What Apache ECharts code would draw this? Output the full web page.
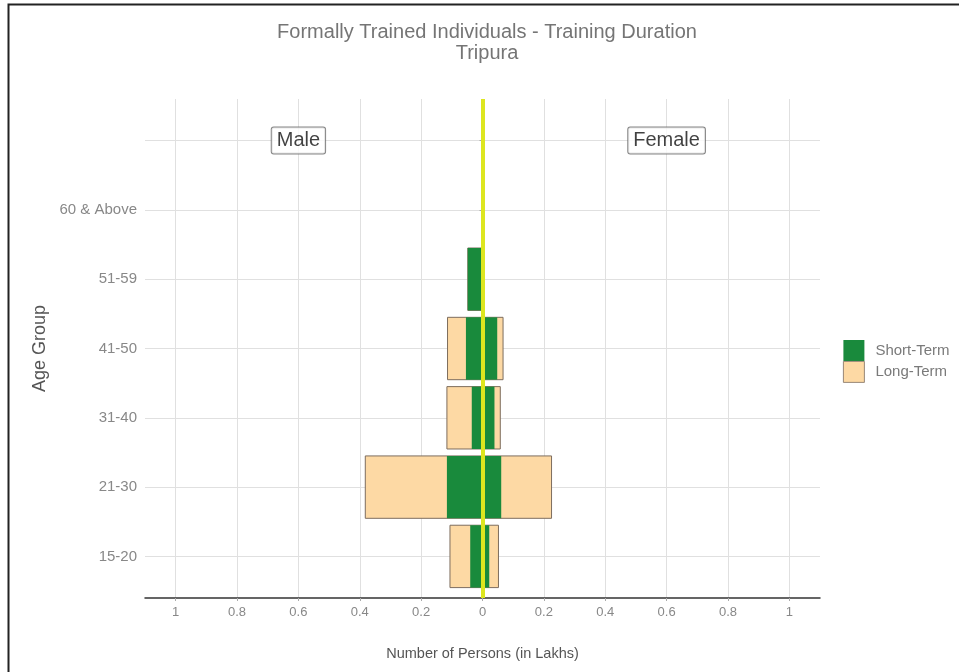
<!DOCTYPE html>
<html>
<head>
<meta charset="utf-8">
<script src="https://cdn.jsdelivr.net/npm/echarts@6/dist/echarts.min.js"></script>
<style>
  html, body { margin: 0; padding: 0; background: #fff; }
  #chart-container { width: 959px; height: 672px; }
</style>
</head>
<body>
<div id="chart-container"></div>
<script>
// age groups, bottom to top (last one is the empty row used for the Male / Female tags)
var ageGroups = ['15-20', '21-30', '31-40', '41-50', '51-59', '60 & Above', ''];
// number of persons, in lakhs
var maleShort   = [0.040, 0.116, 0.035, 0.054, 0.048, 0.002];
var maleLong    = [0.066, 0.266, 0.081, 0.060, 0.000, 0.000];
var femaleShort = [0.022, 0.061, 0.039, 0.048, 0.002, 0.002];
var femaleLong  = [0.030, 0.164, 0.019, 0.019, 0.000, 0.000];
var xTicks = [-1, -0.8, -0.6, -0.4, -0.2, 0, 0.2, 0.4, 0.6, 0.8, 1];
var sideTags = [[-0.6, 6, 'Male'], [0.6, 6, 'Female']];

var GREEN = '#198a3c';
var PEACH = '#fdd9a4';
var FONT = 'Liberation Sans, Arial, sans-serif';

// one row per bar: [x value (male negative), row index]
var shortData = [], longData = [];
for (var i = 0; i < maleShort.length; i++) {
  shortData.push([-maleShort[i], i]);
  shortData.push([femaleShort[i], i]);
  longData.push([-(maleShort[i] + maleLong[i]), i]);
  longData.push([femaleShort[i] + femaleLong[i], i]);
}

function barRenderer(fill, stroke) {
  return function (params, api) {
    var v = api.value(0), row = api.value(1);
    var a = api.coord([0, row + 0.45]);
    var b = api.coord([v, row - 0.45]);
    return {
      type: 'rect',
      shape: {
        x: Math.min(a[0], b[0]),
        y: a[1],
        width: Math.abs(b[0] - a[0]),
        height: b[1] - a[1]
      },
      style: { fill: fill, stroke: stroke, lineWidth: stroke ? 1 : 0 }
    };
  };
}

var dom = document.getElementById('chart-container');
var myChart = echarts.init(dom, null, { renderer: 'canvas' });
var option = {
  animation: false,
  textStyle: { fontFamily: FONT },
  title: {
    text: 'Formally Trained Individuals - Training Duration\nTripura',
    left: 482,
    top: 17,
    textAlign: 'center',
    textStyle: { fontSize: 20, fontWeight: 'normal', color: '#757575', lineHeight: 21, fontFamily: FONT }
  },
  legend: {
    orient: 'vertical',
    left: 838,
    top: 335,
    icon: 'rect',
    itemWidth: 21,
    itemHeight: 21,
    itemGap: 0,
    data: ['Short-Term', 'Long-Term'],
    itemStyle: { borderWidth: 0.8 },
    textStyle: { fontSize: 15, color: '#7a7a7a', fontFamily: FONT, padding: [0, 0, 0, 6] }
  },
  grid: { left: 145, right: 139, top: 99, bottom: 74 },
  xAxis: {
    type: 'value',
    min: -1.1,
    max: 1.1,
    name: 'Number of Persons (in Lakhs)',
    nameLocation: 'middle',
    nameGap: 48,
    nameTextStyle: { fontSize: 14.5, color: '#555', fontFamily: FONT },
    axisLine: { show: true, onZero: false, lineStyle: { color: '#333', width: 1.5 } },
    axisTick: { show: true, length: 3, lineStyle: { color: '#aaa' }, customValues: xTicks },
    axisLabel: {
      customValues: xTicks,
      margin: 8,
      fontSize: 13,
      color: '#888',
      formatter: function (v) { return String(Math.abs(Math.round(v * 10) / 10)); }
    },
    splitLine: { show: true, lineStyle: { color: '#e0e0e0', width: 1 } }
  },
  yAxis: {
    type: 'value',
    min: -0.6,
    max: 6.6,
    name: 'Age Group',
    nameLocation: 'middle',
    nameGap: 95,
    nameTextStyle: { fontSize: 18, color: '#555', fontFamily: FONT },
    axisLine: { show: false },
    axisTick: { show: true, length: 3, lineStyle: { color: '#aaa' }, customValues: [0, 1, 2, 3, 4, 5, 6] },
    axisLabel: {
      customValues: [0, 1, 2, 3, 4, 5, 6],
      margin: 8,
      fontSize: 15,
      color: '#888',
      formatter: function (v) { return ageGroups[Math.round(v)] || ''; }
    },
    splitLine: { show: true, lineStyle: { color: '#e0e0e0', width: 1 } }
  },
  series: [
    {
      name: 'Long-Term',
      type: 'custom',
      itemStyle: { color: PEACH, borderColor: '#7d6d5e', borderWidth: 1 },
      encode: { x: 0, y: 1 },
      renderItem: barRenderer(PEACH, '#7d6d5e'),
      data: longData,
      z: 2
    },
    {
      name: 'Short-Term',
      type: 'custom',
      itemStyle: { color: GREEN },
      encode: { x: 0, y: 1 },
      renderItem: barRenderer(GREEN, null),
      data: shortData,
      z: 3
    },
    {
      name: 'zero',
      type: 'line',
      data: [],
      z: 5,
      markLine: {
        silent: true,
        symbol: 'none',
        label: { show: false },
        lineStyle: { color: '#dde61f', width: 4, type: 'solid' },
        data: [{ xAxis: 0 }]
      }
    },
    {
      name: 'tags',
      type: 'scatter',
      symbolSize: 0,
      z: 6,
      data: sideTags,
      label: {
        show: true,
        position: 'inside',
        formatter: function (p) { return p.data[2]; },
        fontSize: 20,
        color: '#111',
        backgroundColor: '#fff',
        borderColor: '#666',
        borderWidth: 1,
        borderRadius: 2,
        padding: [4, 5, 2, 5],
        fontFamily: FONT
      }
    }
  ],
  graphic: [
    {
      type: 'rect',
      shape: { x: 8.5, y: 4.5, width: 1000, height: 1000 },
      style: { fill: 'none', stroke: '#222', lineWidth: 2 },
      silent: true
    }
  ]
};

if (option && typeof option === 'object') {
  myChart.setOption(option);
}

window.addEventListener('resize', myChart.resize);
</script>
</body>
</html>
